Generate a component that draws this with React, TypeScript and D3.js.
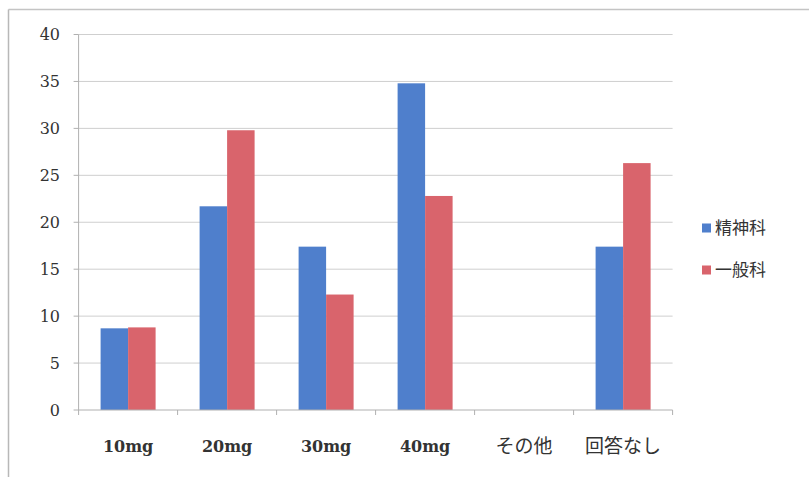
import React from "react";
import * as d3 from "d3";

// Dose categories and the two respondent groups (percent of each group)
const categories = ["10mg", "20mg", "30mg", "40mg", "その他", "回答なし"];
const seriesNames = ["精神科", "一般科"];
const psychiatry = [8.7, 21.7, 17.4, 34.8, 0, 17.4];
const general = [8.8, 29.8, 12.3, 22.8, 0, 26.3];
const yTicks = [0, 5, 10, 15, 20, 25, 30, 35, 40];
const colors = ["#4f7fcc", "#d9646c"];

const W = 809;
const H = 477;

export default function App() {
  const x = d3.scaleBand<string>().domain(categories).range([78.6, 672.6]).padding(0);
  const inner = d3
    .scaleBand<string>()
    .domain(seriesNames)
    .range([0, x.bandwidth()])
    .paddingInner(0)
    .paddingOuter(0.8);
  const y = d3.scaleLinear().domain([0, 40]).range([410, 34.5]);
  const series = [psychiatry, general];
  const [x0, x1] = x.range();
  const serif = "'DejaVu Serif', 'Liberation Serif', serif";
  const jp = "'Noto Sans CJK JP', sans-serif";
  const isAscii = (s: string) => /^[\x00-\x7f]+$/.test(s);

  return (
    <svg
      width={W}
      height={H}
      viewBox={`0 0 ${W} ${H}`}
      style={{ position: "absolute", left: 0, top: 0, background: "#fff" }}
    >
      {/* outer frame */}
      <line x1={8.5} y1={9.5} x2={W} y2={9.5} stroke="#c4c4c4" strokeWidth={1.5} />
      <line x1={8.5} y1={9.5} x2={8.5} y2={H} stroke="#b8b8b8" strokeWidth={1.5} />

      {/* gridlines and y ticks */}
      {yTicks.map((t) => (
        <g key={t}>
          {t > 0 && (
            <line x1={x0} x2={x1} y1={y(t)} y2={y(t)} stroke="#cfcfcf" strokeWidth={1} />
          )}
          <line x1={x0 - 5} x2={x0} y1={y(t)} y2={y(t)} stroke="#b0b0b0" strokeWidth={1} />
          <text
            x={60}
            y={y(t)}
            dy="0.35em"
            textAnchor="end"
            fontFamily={serif}
            fontSize={16}
            fill="#333"
          >
            {t}
          </text>
        </g>
      ))}

      {/* bars */}
      {categories.map((c, i) => (
        <g key={c} transform={`translate(${x(c)},0)`}>
          {seriesNames.map((s, j) => {
            const v = series[j][i];
            if (v <= 0) return null;
            return (
              <rect
                key={s}
                x={inner(s)}
                y={y(v)}
                width={inner.bandwidth()}
                height={y(0) - y(v)}
                fill={colors[j]}
              />
            );
          })}
        </g>
      ))}

      {/* axes */}
      <line x1={x0} x2={x0} y1={y(40)} y2={y(0)} stroke="#b0b0b0" strokeWidth={1} />
      <line x1={x0} x2={x1} y1={y(0)} y2={y(0)} stroke="#b0b0b0" strokeWidth={1} />
      {d3.range(categories.length + 1).map((k) => {
        const xx = x0 + k * x.step();
        return <line key={k} x1={xx} x2={xx} y1={y(0)} y2={y(0) + 5} stroke="#b0b0b0" />;
      })}
      {categories.map((c) => (
        <text
          key={c}
          x={(x(c) as number) + x.bandwidth() / 2}
          y={446}
          dy="0.35em"
          textAnchor="middle"
          fontFamily={isAscii(c) ? serif : jp}
          fontSize={isAscii(c) ? 16 : 19}
          fontWeight={isAscii(c) ? 600 : 400}
          fill="#333"
        >
          {c}
        </text>
      ))}

      {/* legend */}
      {seriesNames.map((s, j) => (
        <g key={s} transform={`translate(702, ${228 + j * 42})`}>
          <rect x={0} y={-4.5} width={9} height={9} fill={colors[j]} />
          <text x={13} y={0} dy="0.35em" fontFamily={jp} fontSize={17} fill="#333">
            {s}
          </text>
        </g>
      ))}
    </svg>
  );
}
